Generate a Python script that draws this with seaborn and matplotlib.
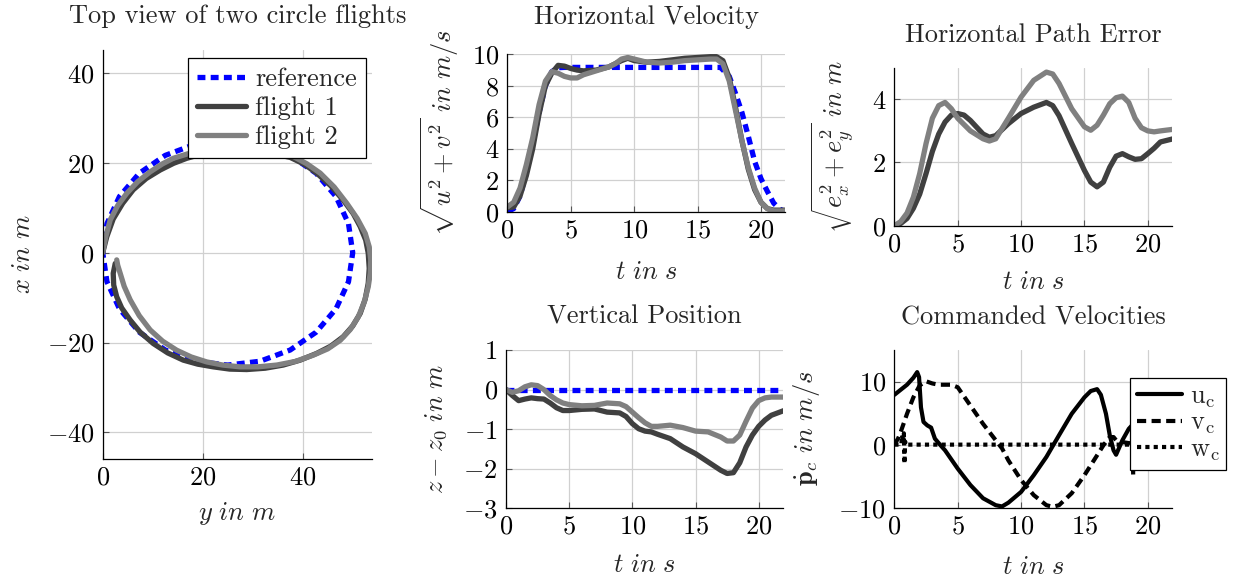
import matplotlib
matplotlib.use("Agg")
import matplotlib.pyplot as plt
import seaborn as sns

# ---- top view (horizontal axis: y in m, vertical axis: x in m) ----
ref_y = [0, 0.85, 3.35, 7.32, 12.5, 18.53, 25, 31.47, 37.5, 42.68, 46.65, 49.15, 50,
         49.15, 46.65, 42.68, 37.5, 31.47, 25, 18.53, 12.5, 7.32, 3.35, 0.85, 0]
ref_x = [0, 6.47, 12.5, 17.68, 21.65, 24.15, 25, 24.15, 21.65, 17.68, 12.5, 6.47, 0,
         -6.47, -12.5, -17.68, -21.65, -24.15, -25, -24.15, -21.65, -17.68, -12.5, -6.47, 0]

fl1_y = [0, 0.8, 2.1, 4.0, 6.1, 8.7, 11.5, 14.2, 16.8, 20.0, 25.0, 30.0, 35.0, 37.5, 40.3,
         42.8, 45.6, 48.1, 50.1, 51.5, 52.6, 53.1, 53.3, 53.1, 52.5, 51.5, 50.0, 48.1, 45.6,
         42.8, 39.5, 36.1, 32.5, 28.8, 25.4, 22.1, 19.0, 16.1, 13.0, 10.1, 7.5, 5.5, 3.8,
         2.8, 2.2, 2.1, 2.5]
fl1_x = [0, 3.5, 7.5, 11.0, 14.0, 16.5, 18.4, 19.9, 21.0, 22.0, 22.6, 22.6, 21.8, 21.2, 19.7,
         17.7, 14.9, 11.7, 8.7, 5.8, 2.8, -0.1, -3.5, -6.8, -10.3, -13.5, -16.3, -18.7, -20.8,
         -22.4, -23.9, -25.0, -25.7, -26.0, -25.9, -25.4, -24.8, -23.9, -22.3, -20.2, -17.7,
         -15.0, -12.3, -9.8, -7.2, -4.6, -2.4]

fl2_y = [0, 0.6, 1.5, 3.0, 4.8, 7.0, 9.5, 12.0, 14.1, 17.0, 20.0, 25.0, 30.0, 35.0, 38.1,
         40.8, 43.5, 46.3, 48.8, 50.9, 52.5, 53.3, 53.6, 53.5, 53.1, 52.3, 51.1, 49.5, 47.5,
         45.0, 42.1, 38.5, 34.8, 31.0, 27.5, 24.0, 20.8, 17.7, 14.8, 12.0, 9.5, 7.3, 5.5,
         4.3, 3.5, 3.0, 2.8]
fl2_x = [0, 3.5, 7.3, 10.5, 13.2, 15.8, 18.0, 19.8, 21.0, 22.0, 22.6, 23.1, 23.0, 22.2, 21.4,
         19.8, 17.7, 14.6, 11.0, 7.6, 4.3, 1.3, -1.6, -4.6, -7.6, -11.0, -14.3, -17.1, -19.5,
         -21.4, -22.8, -24.2, -25.0, -25.4, -25.4, -25.0, -24.3, -23.2, -21.7, -19.7, -17.2,
         -14.0, -10.5, -7.5, -4.6, -2.8, -1.6]

# ---- horizontal velocity ----
hv_ref_t = [0, 0.5, 1, 1.5, 2, 2.5, 3, 3.5, 4, 4.5, 16.8, 17.5, 18, 18.5, 19, 19.5, 20,
            20.5, 21, 21.5, 22]
hv_ref = [0, 0.2, 1.0, 2.5, 4.3, 6.3, 8.0, 8.9, 9.15, 9.17, 9.17, 8.6, 7.5, 6.3, 4.8, 3.2,
          2.1, 1.3, 0.55, 0.15, 0]
hv_t = [0, 0.5, 1, 1.5, 2, 2.5, 3, 3.5, 4, 4.5, 5, 5.5, 6, 7, 8, 8.5, 9, 9.5, 10, 11, 12,
        13, 14, 15, 16, 16.5, 17, 17.5, 18, 18.5, 19, 19.5, 20, 20.5, 21, 22]
hv1 = [0.25, 0.3, 1.0, 2.3, 4.0, 6.2, 8.0, 8.8, 9.3, 9.25, 9.1, 9.0, 8.95, 9.0, 9.2, 9.4,
       9.6, 9.75, 9.6, 9.5, 9.55, 9.65, 9.75, 9.8, 9.85, 9.85, 9.6, 8.5, 6.6, 4.5, 2.7, 1.4,
       0.6, 0.2, 0.1, 0.1]
hv2 = [0.3, 0.6, 1.5, 3.0, 4.7, 6.8, 8.3, 8.9, 8.8, 8.6, 8.5, 8.5, 8.7, 8.95, 9.2, 9.4,
       9.7, 9.8, 9.7, 9.5, 9.45, 9.5, 9.6, 9.65, 9.7, 9.7, 9.4, 8.3, 6.4, 4.5, 2.8, 1.5,
       0.6, 0.2, 0.05, 0.05]

# ---- vertical position ----
vp_ref_t = [0, 22]
vp_ref = [0, 0]
vp_t = [0, 0.5, 1, 1.5, 2, 2.5, 3, 3.5, 4, 4.5, 5, 6, 7, 8, 9, 9.5, 10, 10.5, 11, 11.5,
        12, 13, 14, 15, 16, 17, 17.5, 18, 18.5, 19, 19.5, 20, 20.5, 21, 22]
vp1 = [0, -0.15, -0.28, -0.24, -0.21, -0.23, -0.24, -0.34, -0.46, -0.53, -0.53, -0.5,
       -0.49, -0.57, -0.59, -0.68, -0.86, -0.99, -1.05, -1.07, -1.13, -1.24, -1.45, -1.62,
       -1.83, -2.04, -2.12, -2.1, -1.85, -1.45, -1.15, -0.93, -0.77, -0.65, -0.53]
vp2 = [0, -0.07, -0.03, 0.07, 0.12, 0.1, 0, -0.15, -0.26, -0.34, -0.38, -0.41, -0.40,
       -0.34, -0.36, -0.43, -0.57, -0.71, -0.84, -0.93, -0.93, -0.9, -0.96, -1.05, -1.07,
       -1.2, -1.3, -1.3, -1.15, -0.8, -0.47, -0.28, -0.21, -0.19, -0.19]

# ---- horizontal path error ----
pe_t = [0, 0.5, 1, 1.5, 2, 2.5, 3, 3.5, 4, 4.5, 5, 5.5, 6, 7, 7.5, 8, 9, 10, 11, 12, 12.5,
        13, 14, 15, 15.5, 16, 16.5, 17, 17.5, 18, 18.5, 19, 19.5, 20, 20.5, 21, 22]
pe1 = [0, 0.07, 0.23, 0.55, 1.0, 1.65, 2.35, 2.9, 3.28, 3.5, 3.55, 3.5, 3.33, 2.9, 2.8,
       2.85, 3.23, 3.55, 3.75, 3.9, 3.8, 3.48, 2.6, 1.75, 1.38, 1.23, 1.38, 1.85, 2.2, 2.28,
       2.18, 2.1, 2.12, 2.28, 2.45, 2.65, 2.75]
pe2 = [0, 0.13, 0.4, 0.9, 1.65, 2.6, 3.4, 3.8, 3.9, 3.7, 3.4, 3.2, 3.0, 2.75, 2.68, 2.75,
       3.4, 4.07, 4.6, 4.86, 4.8, 4.5, 3.7, 3.13, 3.02, 3.18, 3.5, 3.86, 4.05, 4.1, 3.9, 3.4,
       3.1, 3.0, 2.97, 3.0, 3.05]

# ---- commanded velocities ----
uc_t = [0, 0.5, 1, 1.5, 1.8, 1.95, 2.0, 2.1, 2.3, 2.6, 2.9, 3.2, 3.6, 4, 5, 6, 7, 8, 8.5,
        9, 10, 11, 12, 13, 14, 15, 15.5, 16, 16.3, 16.7, 17, 17.3, 17.5, 18, 18.5, 19, 19.5,
        20, 21, 22]
uc = [7.9, 8.7, 9.5, 10.6, 11.5, 10.7, 9.1, 5.9, 3.6, 3.05, 2.7, 0.95, 0, -0.9, -3.8,
      -6.4, -8.5, -9.6, -9.8, -9.2, -7.5, -4.85, -1.95, 1.5, 4.9, 7.5, 8.5, 8.8, 7.9, 4.9,
      1.5, -0.9, -1.6, 0.7, 2.5, 3.6, 5.0, 6.5, 8.5, 9.0]
vc_t = [0, 0.3, 0.5, 1, 1.5, 2, 2.5, 3, 3.5, 4, 4.5, 5, 6, 7, 8, 8.5, 9, 10, 11, 12, 12.5,
        13, 14, 15, 16, 16.5, 17, 17.3, 17.5, 18, 19, 20, 22]
vc = [0, 1.0, 2.0, 4.9, 7.5, 9.4, 10.05, 9.7, 9.5, 9.5, 9.5, 9.1, 6.2, 3.3, 0.7, -0.6,
      -2.5, -5.6, -8.0, -9.6, -9.85, -9.6, -7.7, -4.85, -1.7, -0.1, 1.2, 1.2, 0.7, 0.4, 0.1,
      0, 0]
wc_t = [0, 0.55, 0.6, 0.7, 0.75, 0.8, 0.85, 0.9, 1.0, 18.8, 18.85, 18.9, 22]
wc = [0, 0, 1.5, 0.3, 1.8, -3.0, 0.5, 0, 0, 0, -4.8, 0, 0]

FS = 19
sns.set_theme(style="whitegrid")
plt.rcParams["font.family"] = ["cmr10", "DejaVu Serif"]
plt.rcParams.update({
    "mathtext.fontset": "cm",
    "axes.formatter.use_mathtext": True,
    "font.size": FS,
    "axes.unicode_minus": True,
})

REF = dict(color="#0000ff", linewidth=3.8, linestyle=(0, (1.5, 1.0)))
F1 = dict(color="#404040", linewidth=3.8)
F2 = dict(color="#808080", linewidth=3.8)


def style_axes(ax, xlim, ylim, xticks, yticks):
    ax.set_facecolor("white")
    ax.set_xlim(xlim)
    ax.set_ylim(ylim)
    ax.set_xticks(xticks)
    ax.set_yticks(yticks)
    ax.grid(True, color="#d0d0d0", linewidth=0.9)
    ax.set_axisbelow(True)
    for s in ["top", "right"]:
        ax.spines[s].set_visible(False)
    for s in ["left", "bottom"]:
        ax.spines[s].set_visible(True)
        ax.spines[s].set_color("black")
        ax.spines[s].set_linewidth(0.9)
    ax.tick_params(direction="in", length=4, width=0.8, color="#555555",
                   labelcolor="black", labelsize=FS, left=True, bottom=True)
    ax.tick_params(axis="x", pad=5)
    ax.tick_params(axis="y", pad=6)


def set_labels(ax, title, tpad, xlabel, xl_y, ylabel, yl_x):
    ax.set_title(title, fontsize=FS, pad=tpad)
    ax.set_xlabel(xlabel, fontsize=FS)
    ax.set_ylabel(ylabel, fontsize=FS)
    ax.xaxis.set_label_coords(0.5, xl_y)
    ax.yaxis.set_label_coords(yl_x, 0.5)


fig = plt.figure(figsize=(12.42, 5.78), dpi=100)
ax_top = fig.add_axes([0.0827, 0.2059, 0.2166, 0.7076])
ax_hv = fig.add_axes([0.4085, 0.6337, 0.2236, 0.2723])
ax_vp = fig.add_axes([0.4074, 0.1206, 0.2228, 0.2739])
ax_pe = fig.add_axes([0.7201, 0.6095, 0.2234, 0.2734])
ax_cv = fig.add_axes([0.7201, 0.1216, 0.2234, 0.2728])

# top view
sns.lineplot(x=ref_y, y=ref_x, ax=ax_top, sort=False, estimator=None, label="reference", **REF)
sns.lineplot(x=fl1_y, y=fl1_x, ax=ax_top, sort=False, estimator=None, label="flight 1", **F1)
sns.lineplot(x=fl2_y, y=fl2_x, ax=ax_top, sort=False, estimator=None, label="flight 2", **F2)
style_axes(ax_top, (0, 53.8), (-45.9, 45.1), [0, 20, 40], [-40, -20, 0, 20, 40])
set_labels(ax_top, "Top view of two circle flights", 19.7,
           r"$y\ in\ m$", -0.100, r"$x\ in\ m$", -0.252)
leg = ax_top.legend(loc="upper right", bbox_to_anchor=(0.979, 0.981), borderaxespad=0,
                    frameon=True, fancybox=False, edgecolor="black", framealpha=1,
                    handlelength=1.85, handletextpad=0.35, labelspacing=0.2,
                    borderpad=0.35, fontsize=FS)
leg.get_frame().set_linewidth(0.9)

# horizontal velocity
sns.lineplot(x=hv_ref_t, y=hv_ref, ax=ax_hv, **REF)
sns.lineplot(x=hv_t, y=hv1, ax=ax_hv, **F1)
sns.lineplot(x=hv_t, y=hv2, ax=ax_hv, **F2)
style_axes(ax_hv, (0, 21.9), (0, 10), [0, 5, 10, 15, 20], [0, 2, 4, 6, 8, 10])
set_labels(ax_hv, "Horizontal Velocity", 21.8, r"$t\ in\ s$", -0.307,
           r"$\sqrt{u^2+v^2}\ in\ m/s$", -0.168)

# vertical position
sns.lineplot(x=vp_ref_t, y=vp_ref, ax=ax_vp, **REF)
sns.lineplot(x=vp_t, y=vp1, ax=ax_vp, **F1)
sns.lineplot(x=vp_t, y=vp2, ax=ax_vp, **F2)
style_axes(ax_vp, (0, 21.9), (-3, 1), [0, 5, 10, 15, 20], [-3, -2, -1, 0, 1])
set_labels(ax_vp, "Vertical Position", 19.2, r"$t\ in\ s$", -0.284,
           r"$z-z_0\ in\ m$", -0.206)

# horizontal path error
sns.lineplot(x=pe_t, y=pe1, ax=ax_pe, **F1)
sns.lineplot(x=pe_t, y=pe2, ax=ax_pe, **F2)
style_axes(ax_pe, (0, 21.9), (0, 5), [0, 5, 10, 15, 20], [0, 2, 4])
set_labels(ax_pe, "Horizontal Path Error", 18.3, r"$t\ in\ s$", -0.280,
           r"$\sqrt{e_x^2+e_y^2}\ in\ m$", -0.138)

# commanded velocities
sns.lineplot(x=uc_t, y=uc, ax=ax_cv, color="black", linewidth=3.0, label=r"$\mathrm{u_c}$")
sns.lineplot(x=vc_t, y=vc, ax=ax_cv, color="black", linewidth=3.0,
             linestyle=(0, (2.2, 1.3)), label=r"$\mathrm{v_c}$")
sns.lineplot(x=wc_t, y=wc, ax=ax_cv, color="black", linewidth=3.0,
             linestyle=(0, (1, 1)), label=r"$\mathrm{w_c}$")
style_axes(ax_cv, (0, 21.9), (-10, 15), [0, 5, 10, 15, 20], [-10, 0, 10])
set_labels(ax_cv, "Commanded Velocities", 18.5, r"$t\ in\ s$", -0.300,
           r"$\dot{\mathbf{p}}_c\ in\ m/s$", -0.261)
leg2 = ax_cv.legend(loc="upper left", bbox_to_anchor=(0.85, 0.824), borderaxespad=0,
                    frameon=True, fancybox=False, edgecolor="black", framealpha=1,
                    handlelength=1.7, handletextpad=0.3, labelspacing=0.05,
                    borderpad=0.25, fontsize=FS)
leg2.get_frame().set_linewidth(0.9)
leg2.set_zorder(10)

fig.savefig("out.png", dpi=100)
